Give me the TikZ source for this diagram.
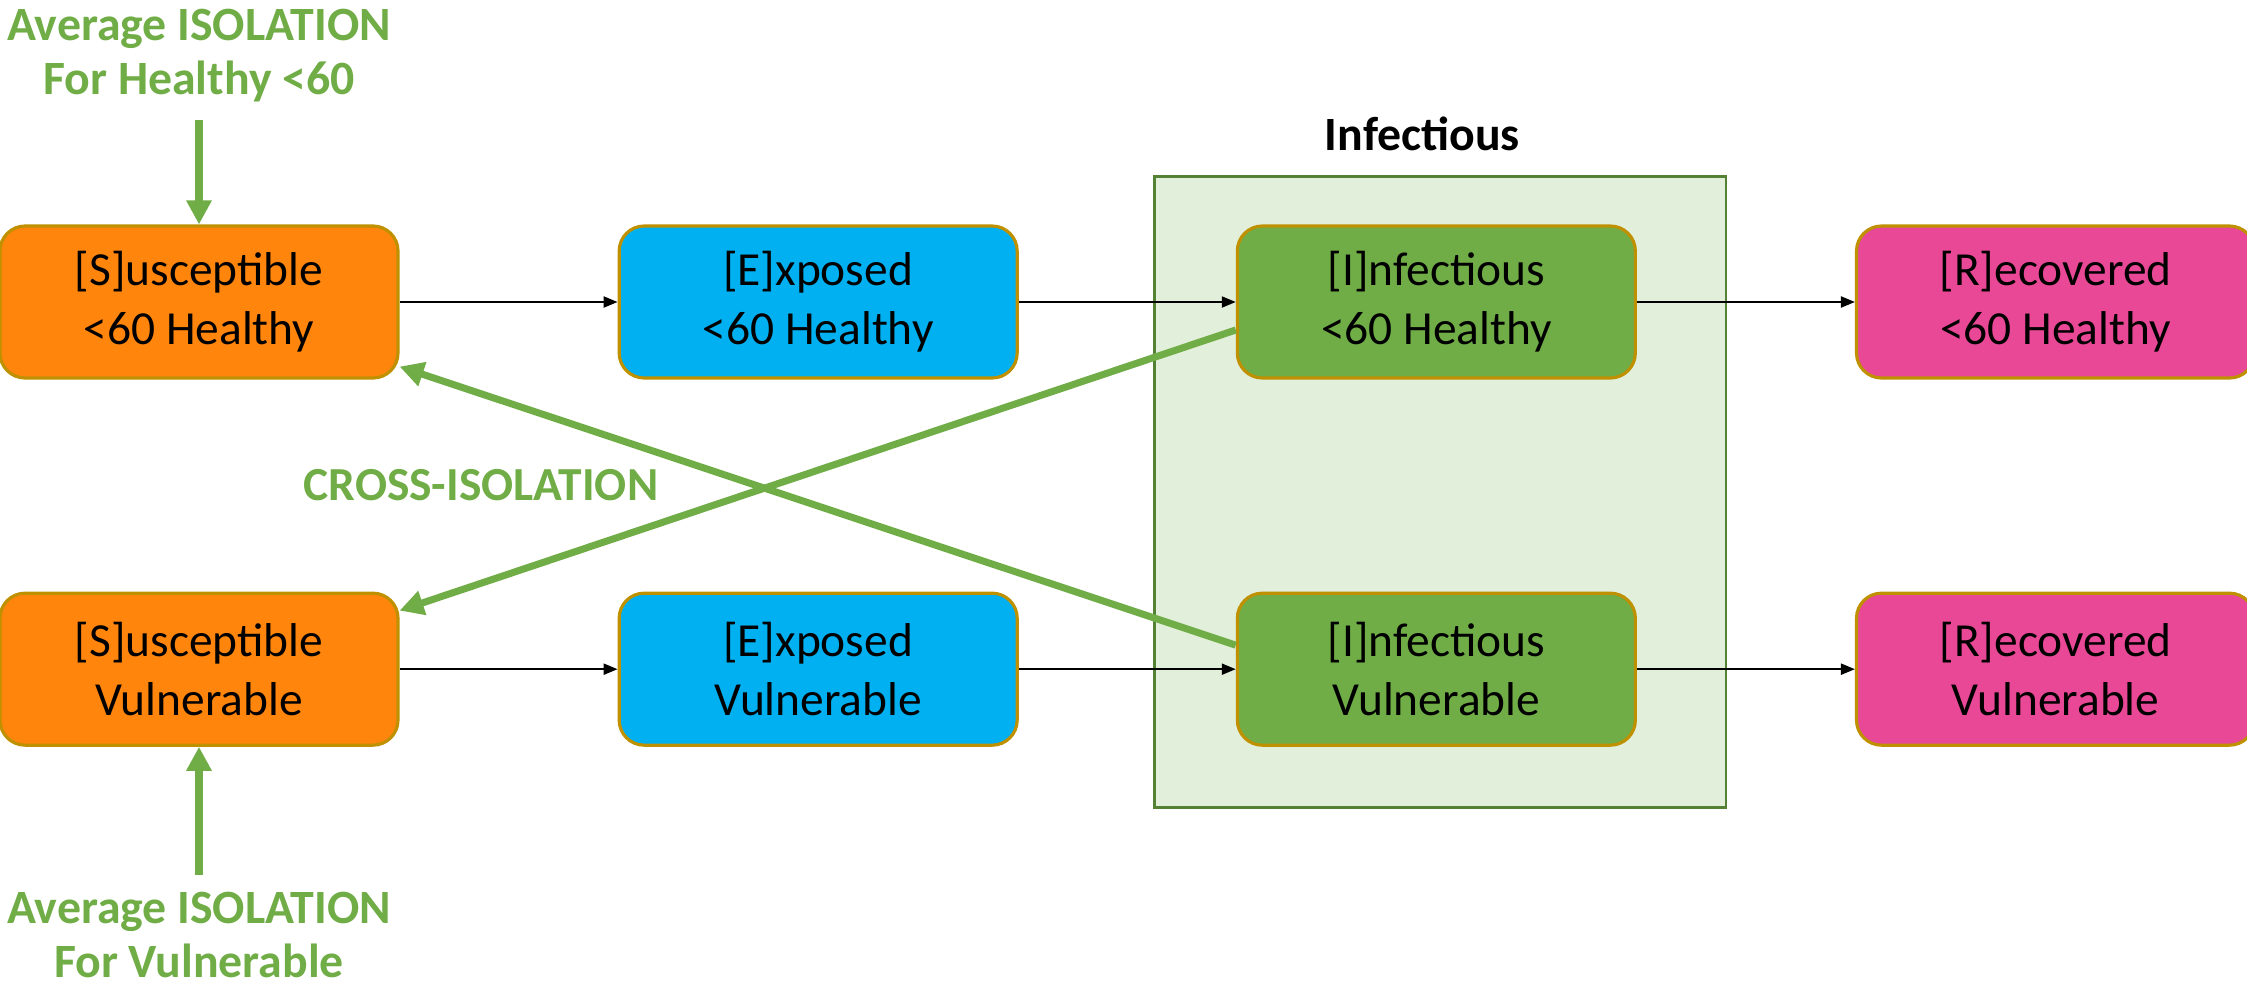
\documentclass[tikz,border=0pt]{standalone}
\usepackage{fontspec}
\setmainfont{Carlito}
\usetikzlibrary{positioning,arrows.meta,backgrounds}

\definecolor{sorange}{RGB}{255,133,12}
\definecolor{eblue}{RGB}{0,176,240}
\definecolor{igreen}{RGB}{112,173,71}
\definecolor{rpink}{RGB}{232,72,150}
\definecolor{goldline}{RGB}{191,144,0}
\definecolor{grpfill}{RGB}{226,239,218}
\definecolor{grpline}{RGB}{84,130,53}

\tikzstyle{comp} = [rectangle, rounded corners=0.25cm, draw=goldline, line width=0.9pt, minimum width=3.98cm, minimum height=1.52cm, align=center, font=\fontsize{13.5}{16.8}\selectfont]
\tikzstyle{flow} = [draw=black, line width=0.6pt, -{Triangle[length=0.14cm,width=0.11cm]}]
\tikzstyle{iso} = [draw=igreen, line width=2pt, -{Triangle[length=0.24cm,width=0.24cm]}]
\tikzstyle{isotext} = [text=igreen, inner sep=0pt, align=center, font=\bfseries\fontsize{13.6}{15.4}\selectfont]
\tikzstyle{grp} = [draw=grpline, fill=grpfill, line width=0.8pt]

\begin{document}
\begin{tikzpicture}
\useasboundingbox (0,0) rectangle (22.47,-9.87);
%begin row <60 healthy
\node[comp, fill=sorange] (Sh) at (1.99,-3.02) {[S]usceptible\\<60 Healthy};
\node[comp, fill=eblue, right=2.18cm of Sh] (Eh) {[E]xposed\\<60 Healthy};
\node[comp, fill=igreen, right=2.17cm of Eh] (Ih) {[I]nfectious\\<60 Healthy};
\node[comp, fill=rpink, right=2.18cm of Ih] (Rh) {[R]ecovered\\<60 Healthy};
%end row <60 healthy
%begin row vulnerable
\node[comp, fill=sorange, below=2.12cm of Sh] (Sv) {[S]usceptible\\Vulnerable};
\node[comp, fill=eblue, below=2.12cm of Eh] (Ev) {[E]xposed\\Vulnerable};
\node[comp, fill=igreen, below=2.12cm of Ih] (Iv) {[I]nfectious\\Vulnerable};
\node[comp, fill=rpink, below=2.12cm of Rh] (Rv) {[R]ecovered\\Vulnerable};
%end row vulnerable
%infectious group
\begin{scope}[on background layer]
\draw[grp] ([shift={(-0.81,0.48)}]Ih.north west) rectangle ([shift={(0.89,-0.61)}]Iv.south east);
\end{scope}
\node[inner sep=0pt, font=\bfseries\fontsize{13.6}{16}\selectfont, above=0.73cm of Ih, xshift=-0.14cm] (grptitle) {Infectious};
%flows
\draw[flow] (Sh) -- (Eh);
\draw[flow] (Eh) -- (Ih);
\draw[flow] (Ih) -- (Rh);
\draw[flow] (Sv) -- (Ev);
\draw[flow] (Ev) -- (Iv);
\draw[flow] (Iv) -- (Rv);
%isolation
\node[isotext, above=1.22cm of Sh] (isoh) {Average ISOLATION\\For Healthy <60};
\draw[iso, shorten <=0.18cm] (isoh) -- (Sh);
\node[isotext, below=1.45cm of Sv] (isov) {Average ISOLATION\\For Vulnerable};
\draw[iso, shorten <=0.17cm] (isov) -- (Sv);
%cross-isolation
\draw[iso] ([yshift=-0.28cm]Ih.west) -- ([yshift=-0.19cm]Sv.north east);
\draw[iso] ([yshift=0.24cm]Iv.west) -- ([yshift=0.13cm]Sh.south east);
\node[isotext, font=\bfseries\fontsize{13.5}{15}\selectfont] (cross) at (4.81,-4.85) {CROSS-ISOLATION};
\end{tikzpicture}
\end{document}
